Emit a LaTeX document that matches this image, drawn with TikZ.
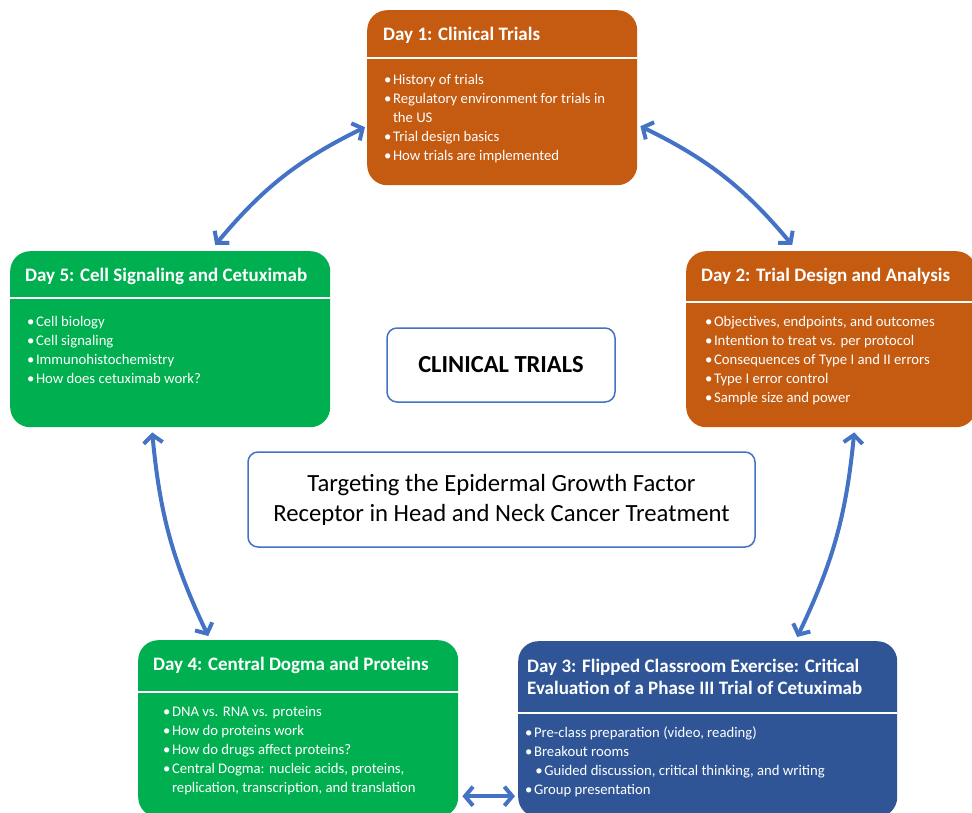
\documentclass[tikz,border=0pt]{standalone}
\usepackage{fontspec}
\setmainfont{Carlito}
\usetikzlibrary{arrows.meta,calc}
\definecolor{dayorange}{HTML}{C55A11}
\definecolor{daygreen}{HTML}{00B050}
\definecolor{dayblue}{HTML}{2F5597}
\definecolor{linkblue}{HTML}{4472C4}
\newcommand\bul{\makebox[0.6em][l]{•}}
\tikzset{
  daybox/.style={fill=#1, rounded corners=20pt, anchor=north west, inner sep=0pt},
  daytitle/.style={anchor=west, text=white, inner sep=0pt, align=left,
    font=\bfseries\fontsize{19}{22}\selectfont},
  daylist/.style={anchor=north west, text=white, inner sep=0pt, align=left,
    font=\fontsize{14.7}{19}\selectfont},
  sepline/.style={white, line width=1.6pt},
  midbox/.style={draw=linkblue, line width=1.5pt, rounded corners=10pt, fill=white,
    inner sep=0pt},
  link/.style={draw=linkblue, line width=4pt, line cap=round,
    {Straight Barb[length=8pt,width=19pt]}-{Straight Barb[length=8pt,width=19pt]}},
}
\begin{document}
\begin{tikzpicture}[x=1pt, y=-1pt, line join=round]
  \useasboundingbox (0,0) rectangle (972,813);
  % day boxes
  \node[daybox=dayorange, minimum width=270pt, minimum height=175pt] (d1) at (367,10) {};
  \node[daybox=dayorange, minimum width=290pt, minimum height=176pt] (d2) at (686,251) {};
  \node[daybox=dayblue, minimum width=379pt, minimum height=176pt] (d3) at (518,641) {};
  \node[daybox=daygreen, minimum width=320pt, minimum height=177pt] (d4) at (138,640) {};
  \node[daybox=daygreen, minimum width=320pt, minimum height=176pt] (d5) at (10,251) {};
  \draw[sepline] (d1.west |- 0,58) -- (d1.east |- 0,58);
  \draw[sepline] (d2.west |- 0,302) -- (d2.east |- 0,302);
  \draw[sepline] (d3.west |- 0,713) -- (d3.east |- 0,713);
  \draw[sepline] (d4.west |- 0,692) -- (d4.east |- 0,692);
  \draw[sepline] (d5.west |- 0,298) -- (d5.east |- 0,298);
  % titles
  \node[daytitle] (t1) at (383,35) {Day 1: Clinical Trials};
  \node[daytitle] (t2) at (701,276) {Day 2: Trial Design and Analysis};
  \node[daytitle] (t3) at (527,677) {Day 3: Flipped Classroom Exercise: Critical\\Evaluation of a Phase III Trial of Cetuximab};
  \node[daytitle] (t4) at (153,665) {Day 4: Central Dogma and Proteins};
  \node[daytitle] (t5) at (25,276) {Day 5: Cell Signaling and Cetuximab};
  % bullet lists
  \node[daylist] (l1) at (384,74) {\bul History of trials\\
    \bul Regulatory environment for trials in\\ \hspace{0.6em}the US\\
    \bul Trial design basics\\ \bul How trials are implemented};
  \node[daylist] (l2) at (705,316) {\bul Objectives, endpoints, and outcomes\\
    \bul Intention to treat vs. per protocol\\
    \bul Consequences  of Type I and II errors\\
    \bul Type I error control\\ \bul Sample size and power};
  \node[daylist] (l3) at (525,727) {\bul Pre-class preparation (video, reading)\\
    \bul Breakout rooms\\
    \hspace{0.7em}\bul Guided discussion, critical thinking, and writing\\
    \bul Group presentation};
  \node[daylist] (l4) at (163,706) {\bul DNA vs. RNA vs. proteins\\
    \bul How do proteins work\\ \bul How do drugs affect proteins?\\
    \bul Central Dogma: nucleic acids, proteins,\\
    \hspace{0.6em}replication, transcription, and translation};
  \node[daylist] (l5) at (27,316) {\bul Cell biology\\ \bul Cell signaling\\
    \bul Immunohistochemistry\\ \bul How does cetuximab work?};
  % centre
  \node[midbox, minimum width=228pt, minimum height=74pt, font=\bfseries\fontsize{24.5}{28}\selectfont]
    (topic) at (501,365) {CLINICAL TRIALS};
  \node[midbox, minimum width=507pt, minimum height=95pt, align=center,
    font=\fontsize{24.7}{30}\selectfont]
    (theme) at (501.5,499.5) {Targeting the Epidermal Growth Factor\\Receptor in Head and Neck Cancer Treatment};
  % links
  \draw[link] ($(d5.north)+(45,-6)$) to[bend left=12] ($(d1.west)+(-2,29.5)$);
  \draw[link] ($(d1.east)+(3,28.5)$) to[bend left=12] ($(d2.north)+(-39,-6)$);
  \draw[link] ($(d5.south)+(-18,5)$) to[bend right=10] ($(d4.north)+(-90,-4)$);
  \draw[link] ($(d2.south)+(23,5)$) to[bend left=10] ($(d3.north)+(89.5,-4)$);
  \draw[link] ($(d4.east)+(4,67.5)$) -- ($(d3.west)+(-3,67)$);
\end{tikzpicture}
\end{document}
